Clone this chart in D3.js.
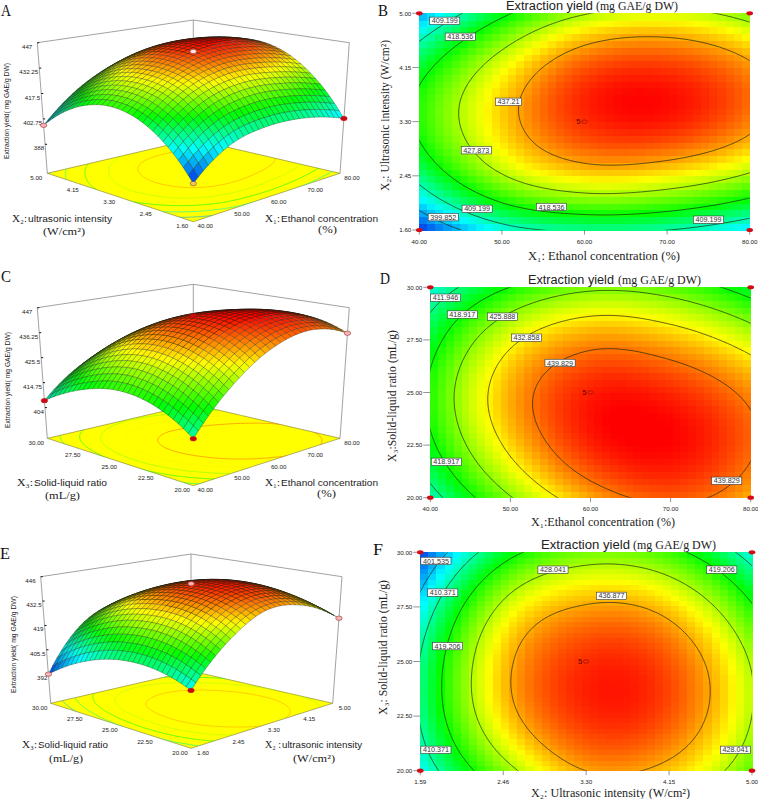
<!DOCTYPE html>
<html><head><meta charset="utf-8">
<style>html,body{margin:0;padding:0;background:#fff}svg{display:block}</style>
<script src="https://cdn.jsdelivr.net/npm/d3@7"></script>
</head><body><svg id="c" width="758" height="799" viewBox="0 0 758 799"></svg>
<script>
// Axis ticks as printed
const x1Ticks=[40,50,60,70,80];
const x2Ticks=[1.6,2.45,3.3,4.15,5];
const x3Ticks=[20,22.5,25,27.5,30];
const x1Labels=["40.00","50.00","60.00","70.00","80.00"];
const x2Labels=["1.60","2.45","3.30","4.15","5.00"];
const x2LabelsF=["1.59","2.46","3.30","4.15","5.00"];
const x3Labels=["20.00","22.50","25.00","27.50","30.00"];
const zTicksA=[388,402.75,417.5,432.25,447];
const zTicksC=[404,414.75,425.5,436.25,447];
const zTicksE=[392,405.5,419,432.5,446];
const zLabelsA=["388","402.75","417.5","432.25","447"];
const zLabelsC=["404","414.75","425.5","436.25","447"];
const zLabelsE=["392","405.5","419","432.5","446"];
// Yield estimated from the picture's contours at each tick crossing.
// Rows follow the Y factor's ticks, columns the X factor's ticks. The drawn
// surface and heat cells are a smooth resampling of these readings.
const yieldAB=[[391,406,410.5,409.3,403],[411.7,427.4,433.8,432.6,426.9],[420,434.7,443.5,444.6,438.9],[415.7,431.3,441.5,443.1,438.2],[399,416.9,427.4,429.9,424.8]];
const yieldCD=[[409,425.5,436.7,441,436],[417.6,434.2,444.1,445.8,440.5],[420,436.6,444.5,444,438.4],[416,431.5,438,436.2,429.8],[407,419,424.7,423,415.5]];
const yieldEF=[[405.2,425.3,436.9,435,423],[411,434,443.5,441.5,428],[410.8,435,443.6,441.4,427.3],[404.4,429.3,437.3,434.7,419.9],[392,415.9,424.4,421.4,406.5]];
const levelsB=[399.852,409.199,418.536,427.873,437.21];
const levelsD=[411.946,418.917,425.888,432.858,439.829];
const levelsF=[401.535,410.371,419.206,428.041,436.877];
// Contour captions: value, then where it sits in axis units
const captionsB=[["409.199",43.07,4.88],["418.536",44.96,4.63],["437.21",50.8,3.61],["427.873",46.9,2.85],["409.199",47,1.93],["418.536",56,1.96],["399.852",42.9,1.8],["409.199",75,1.76]];
const captionsD=[["411.946",41.9,29.5],["418.917",44,28.7],["425.888",49,28.6],["432.858",52,27.6],["439.829",56.2,26.4],["418.917",42,21.7],["439.829",77,20.8]];
const captionsF=[["401.535",1.76,29.6],["410.371",1.83,28.15],["428.041",2.96,29.2],["436.877",3.56,28],["419.206",4.69,29.2],["419.206",1.88,25.7],["410.371",1.76,20.95],["428.041",4.83,20.95]];

const svg=d3.select("#c");
const SANS="'Liberation Sans',Arial,sans-serif", SERIF="'Liberation Serif','Times New Roman',serif";
const color=d3.scaleLinear().domain([391,405.5,418.5,432.25,446]).range(["#0028e8","#00ffff","#00ff00","#ffff00","#ff0000"]).clamp(true);

function txt(s,x,y,o={}){
  const t=svg.append("text").text(s).attr("x",x).attr("y",y)
    .attr("font-family",o.family||SANS).attr("font-size",o.size||7).attr("fill",o.fill||"#222")
    .attr("text-anchor",o.anchor||"start");
  if(o.len) t.attr("textLength",o.len).attr("lengthAdjust","spacingAndGlyphs");
  if(o.rot) t.attr("transform",`rotate(${o.rot} ${x} ${y})`);
  return t;
}
function catmull(p,s){
  const i=Math.max(0,Math.min(3,Math.floor(s))),t=s-i;
  const a=i>0?p[i-1]:3*p[0]-3*p[1]+p[2], b=p[i], c=p[i+1], d=i<3?p[i+2]:3*p[4]-3*p[3]+p[2];
  return .5*(2*b+(c-a)*t+(2*a-5*b+4*c-d)*t*t+(3*b-a-3*c+d)*t*t*t);
}
function sampler(table){ // u,v in 0..1
  return (u,v)=>catmull(table.map(r=>catmull(r,u*4)),v*4);
}
function contourSet(f,levels){
  const n=132,pad=.1,vals=new Float64Array(n*n);
  const g=d3.scaleLinear().domain([0,n-1]).range([-pad,1+pad]);
  for(let j=0;j<n;j++)for(let i=0;i<n;i++)vals[j*n+i]=f(g(i),g(j));
  return {g,sets:levels.map(l=>d3.contours().size([n,n]).smooth(true).thresholds([l])(vals)[0])};
}

let clipId=0;
function heat(o){
  const {x0,x1,yTop,yBot,xTicks,yTicks,table,levels,captions,xLabels,yLabels}=o;
  const sx=d3.scaleLinear().domain(d3.extent(xTicks)).range([x0,x1]);
  const sy=d3.scaleLinear().domain(d3.extent(yTicks)).range([yBot,yTop]);
  const f=sampler(table);
  const nc=41,nr=o.rows||32;
  const cells=[];
  for(let j=0;j<nr;j++)for(let i=0;i<nc;i++)cells.push({i,j,val:f((i+.5)/nc,(j+.5)/nr)});
  const cw=(x1-x0)/nc,ch=(yBot-yTop)/nr;
  svg.append("g").attr("shape-rendering","crispEdges").selectAll("rect").data(cells).join("rect")
    .attr("x",d=>x0+d.i*cw).attr("y",d=>yBot-(d.j+1)*ch).attr("width",cw+.6).attr("height",ch+.6)
    .attr("fill",d=>color(d.val));
  const id="clip"+(++clipId);
  svg.append("clipPath").attr("id",id).append("rect").attr("x",x0).attr("y",yTop).attr("width",x1-x0).attr("height",yBot-yTop);
  const cs=contourSet(f,levels);
  const gp=d3.geoPath(d3.geoTransform({point(a,b){this.stream.point(x0+(x1-x0)*cs.g(a-.5),yBot-(yBot-yTop)*cs.g(b-.5));}}));
  svg.append("g").attr("clip-path",`url(#${id})`).selectAll("path").data(cs.sets).join("path")
    .attr("d",d=>gp(d)).attr("fill","none").attr("stroke","#1c2a10").attr("stroke-width",.7);
  // ticks
  const axis=svg.append("g").attr("stroke","#666").attr("stroke-width",.7);
  xTicks.forEach((t,i)=>{
    axis.append("line").attr("x1",sx(t)).attr("x2",sx(t)).attr("y1",yBot).attr("y2",yBot+4.5);
    txt(xLabels[i],sx(t),yBot+13.5,{size:6.2,anchor:"middle"});
  });
  yTicks.forEach((t,i)=>{
    axis.append("line").attr("x1",x0-7).attr("x2",x0).attr("y1",sy(t)).attr("y2",sy(t));
    txt(yLabels[i],x0-8,sy(t)+2.2,{size:6.2,anchor:"end"});
  });
  // captions
  captions.forEach(([s,a,b])=>{
    const w=s.length*3.95+2.5;
    svg.append("rect").attr("x",sx(a)-w/2).attr("y",sy(b)-3.8).attr("width",w).attr("height",7.4)
      .attr("fill","#fff").attr("stroke","#333").attr("stroke-width",.6);
    txt(s,sx(a),sy(b)+2.5,{size:7.2,anchor:"middle",fill:"#333"});
  });
  // design points
  const cx=xTicks[2],cy=yTicks[2];
  [[xTicks[0],yTicks[0]],[xTicks[4],yTicks[0]],[xTicks[0],yTicks[4]],[xTicks[4],yTicks[4]]].forEach(([a,b])=>{
    svg.append("ellipse").attr("cx",sx(a)).attr("cy",sy(b)).attr("rx",3.3).attr("ry",2.1).attr("fill","#d40a14");
  });
  svg.append("ellipse").attr("cx",sx(cx)).attr("cy",sy(cy)).attr("rx",2.8).attr("ry",1.7).attr("fill","none").attr("stroke","#a01010").attr("stroke-width",.8);
  txt("5",sx(cx)-4,sy(cy)+2,{size:7.5,anchor:"end",fill:"#5a0000"});
}

function surface(o){
  const {F,R,L,B,tF,tR,tL,tB,zTicks,zLabels,table,levels,xTicks,yTicks,xLabels,yLabels,h0}=o;
  const lerp=(a,b,t)=>[a[0]+(b[0]-a[0])*t,a[1]+(b[1]-a[1])*t];
  const bil=(f,r,l,b,u,v)=>lerp(lerp(f,r,u),lerp(l,b,u),v);
  const hs=d3.scaleLinear().domain([zTicks[0],zTicks[4]]).range([h0,1]);
  const proj=(u,v,h)=>lerp(bil(F,R,L,B,u,v),bil(tF,tR,tL,tB,u,v),h);
  const f=sampler(table);
  const poly=p=>p.map(q=>q.map(n=>n.toFixed(2)).join(",")).join(" ");
  const line=(a,b,c="#8a8a8a",w=.8)=>svg.append("line").attr("x1",a[0]).attr("y1",a[1]).attr("x2",b[0]).attr("y2",b[1]).attr("stroke",c).attr("stroke-width",w);
  // box
  line(L,tL);line(B,tB);line(R,tR);line(tL,tB);line(tB,tR);
  // floor
  svg.append("polygon").attr("points",poly([F,R,B,L])).attr("fill","#ffff00").attr("stroke","#7a7a30").attr("stroke-width",.6);
  const id="clip"+(++clipId);
  svg.append("clipPath").attr("id",id).append("polygon").attr("points",poly([F,R,B,L]));
  const cs=contourSet(f,levels);
  const gp=d3.geoPath(d3.geoTransform({point(a,b){const q=proj(cs.g(a-.5),cs.g(b-.5),0);this.stream.point(q[0],q[1]);}}));
  svg.append("g").attr("clip-path",`url(#${id})`).selectAll("path").data(cs.sets).join("path")
    .attr("d",d=>gp(d)).attr("fill","none").attr("stroke",(d,i)=>color(levels[i])).attr("stroke-width",.6);
  // mesh back to front
  const N=30,quads=[];
  const cell=d3.scaleLinear().domain([0,N]).range([0,1]);
  for(let i=N-1;i>=0;i--)for(let j=N-1;j>=0;j--){
    const us=[cell(i),cell(i+1)],vs=[cell(j),cell(j+1)];
    const v00=f(us[0],vs[0]),v10=f(us[1],vs[0]),v01=f(us[0],vs[1]),v11=f(us[1],vs[1]);
    const val=(v00+v10+v01+v11)/4;
    const hu=(hs(v10)+hs(v11)-hs(v00)-hs(v01))/2*N, hv=(hs(v01)+hs(v11)-hs(v00)-hs(v10))/2*N;
    const dot=(hu+hv+.8)/(Math.sqrt(hu*hu+hv*hv+1)*1.62);
    const lit=Math.max(.3,Math.min(1,.34+1.2*dot));
    const c=d3.rgb(color(val));
    quads.push({pts:[proj(us[0],vs[0],hs(v00)),proj(us[1],vs[0],hs(v10)),proj(us[1],vs[1],hs(v11)),proj(us[0],vs[1],hs(v01))],
      fill:`rgb(${c.r*lit|0},${c.g*lit|0},${c.b*lit|0})`});
  }
  svg.append("g").selectAll("polygon").data(quads).join("polygon")
    .attr("points",d=>poly(d.pts)).attr("fill",d=>d.fill).attr("stroke","#101a10").attr("stroke-width",.35).attr("stroke-opacity",.8);
  // z axis
  zTicks.forEach((t,i)=>{
    const p=proj(0,1,hs(t));
    svg.append("line").attr("x1",p[0]).attr("x2",p[0]+2).attr("y1",p[1]).attr("y2",p[1]).attr("stroke","#111").attr("stroke-width",1);
    txt(zLabels[i],p[0]-(i==4?5:1),p[1]+6,{size:6.2,anchor:"end"});
  });
  const su=d3.scaleLinear().domain(d3.extent(xTicks)).range([0,1]);
  const sv=d3.scaleLinear().domain(d3.extent(yTicks)).range([0,1]);
  xTicks.forEach((t,i)=>{const p=proj(su(t),0,0);txt(xLabels[i],p[0]+12,p[1]+6.5,{size:6.2,anchor:"middle"});});
  yTicks.forEach((t,i)=>{const p=proj(0,sv(t),0);txt(yLabels[i],p[0]-11,p[1]+6.5,{size:6.2,anchor:"middle"});});
  // design points
  o.points.forEach(([u,v,fill,stroke])=>{
    const p=proj(u,v,hs(f(u,v)));
    svg.append("ellipse").attr("cx",p[0]).attr("cy",p[1]).attr("rx",3.2).attr("ry",2.2).attr("fill",fill).attr("stroke",stroke).attr("stroke-width",.6);
  });
}

const PINK="#f4b6b6",RED="#c80a12",EDGE="#a03030";
surface({F:[193.3,221.7],R:[340,173.3],L:[47.3,173.3],B:[193.3,139.3],tF:[193.3,76],tR:[349.3,42.7],tL:[37.3,42.7],tB:[193.3,20],
  zTicks:zTicksA,zLabels:zLabelsA,h0:.222,table:yieldAB,levels:levelsB,xTicks:x1Ticks,yTicks:x2Ticks,xLabels:x1Labels,yLabels:x2Labels,
  points:[[0,1,PINK,EDGE],[1,0,RED,RED],[0,0,"#e8d060",EDGE],[.5,.5,"#f6e8e8",EDGE]]});
surface({F:[193.3,485.7],R:[340,438.3],L:[47.3,438.3],B:[193.3,404.3],tF:[193.3,341],tR:[349.3,307.7],tL:[37.3,307.7],tB:[193.3,284.3],
  zTicks:zTicksC,zLabels:zLabelsC,h0:.235,table:yieldCD,levels:levelsD,xTicks:x1Ticks,yTicks:x3Ticks,xLabels:x1Labels,yLabels:x3Labels,
  points:[[0,1,RED,RED],[1,0,PINK,EDGE],[0,0,RED,RED],[.5,.5,RED,RED]]});
surface({F:[191,748.3],R:[332.7,703.3],L:[50.7,703.3],B:[191,671],tF:[191,610],tR:[342,576.7],tL:[40.7,576.7],tB:[191,554],
  zTicks:zTicksE,zLabels:zLabelsE,h0:.23,table:yieldEF,levels:levelsF,xTicks:x2Ticks,yTicks:x3Ticks,xLabels:x2Labels,yLabels:x3Labels,
  points:[[0,1,PINK,EDGE],[1,0,PINK,EDGE],[0,0,RED,RED],[.5,.5,PINK,RED]]});

heat({x0:419.3,x1:749.7,yTop:13.3,yBot:230,xTicks:x1Ticks,yTicks:x2Ticks,table:yieldAB,levels:levelsB,captions:captionsB,xLabels:x1Labels,yLabels:x2Labels});
heat({x0:430.3,x1:750.7,yTop:287.3,yBot:497.7,xTicks:x1Ticks,yTicks:x3Ticks,table:yieldCD,levels:levelsD,captions:captionsD,xLabels:x1Labels,yLabels:x3Labels});
heat({x0:420.3,x1:752,yTop:552.3,yBot:770.7,xTicks:x2Ticks,yTicks:x3Ticks,table:yieldEF,levels:levelsF,captions:captionsF,xLabels:x2LabelsF,yLabels:x3Labels,rows:41});

// Panel letters
[["A",1,16],["B",378,16],["C",1,282],["D",380,284],["E",0,559],["F",373,555]].forEach(([s,x,y])=>txt(s,x,y,{family:SERIF,size:17,len:10,fill:"#111"}));

// Titles on contour panels
[[506,593,596,678,10],[528,614,618,701,284],[541,630,633,716,549]].forEach(([a,b,c,d,y])=>{
  txt("Extraction yield",a,y,{size:12,len:b-a});
  txt("(mg GAE/g DW)",c,y,{family:SERIF,size:12.5,len:d-c});
});
// Contour panel axis titles
txt("X\u2081: Ethanol concentration (%)",528,260,{family:SERIF,size:12.5,len:152});
txt("X\u2082: Ultrasonic intensity (W/cm\u00b2)",389,191,{family:SERIF,size:12.5,len:151,rot:-90});
txt("X\u2081:Ethanol concentration (%)",531,526,{family:SERIF,size:12.5,len:144});
txt("X\u2083:Solid-liquid ratio (mL/g)",396,462,{family:SERIF,size:12.5,len:132,rot:-90});
txt("X\u2082: Ultrasonic intensity (W/cm\u00b2)",531,797,{family:SERIF,size:12.5,len:159});
txt("X\u2083: Solid-liquid ratio (mL/g)",387,715,{family:SERIF,size:12.5,len:135,rot:-90});

// Surface panel axis titles
function duo(a,b,x,xm,xe,y){txt(a,x,y,{family:SERIF,size:10,len:xm-x-1});txt(b,xm,y,{size:9.2,len:xe-xm});}
duo("X\u2082:","ultrasonic intensity",12,28,112,222);
txt("(W/cm\u00b2)",43,235,{family:SERIF,size:11,len:42});
duo("X\u2081:","Ethanol concentration",265,281,378,222);
txt("(%)",318,233,{family:SERIF,size:11,len:19});
duo("X\u2083:","Solid-liquid ratio",17,34,107,486);
txt("(mL/g)",45,499,{family:SERIF,size:11,len:35});
duo("X\u2081:","Ethanol concentration",265,281,378,486);
txt("(%)",317,497,{family:SERIF,size:11,len:19});
duo("X\u2083:","Solid-liquid ratio",22,38,108,748);
txt("(mL/g)",49,762,{family:SERIF,size:11,len:34});
duo("X\u2082 :","ultrasonic intensity",265,282,362,748);
txt("(W/cm\u00b2)",293,762,{family:SERIF,size:11,len:42});
txt("Extraction yield( mg GAE/g DW)",9,159,{size:8,len:96,rot:-90});
txt("Extraction yield( mg GAE/g DW)",10,428,{size:8,len:96,rot:-90});
txt("Extraction yield( mg GAE/g DW)",16,693,{size:8,len:97,rot:-90});
</script></body></html>
